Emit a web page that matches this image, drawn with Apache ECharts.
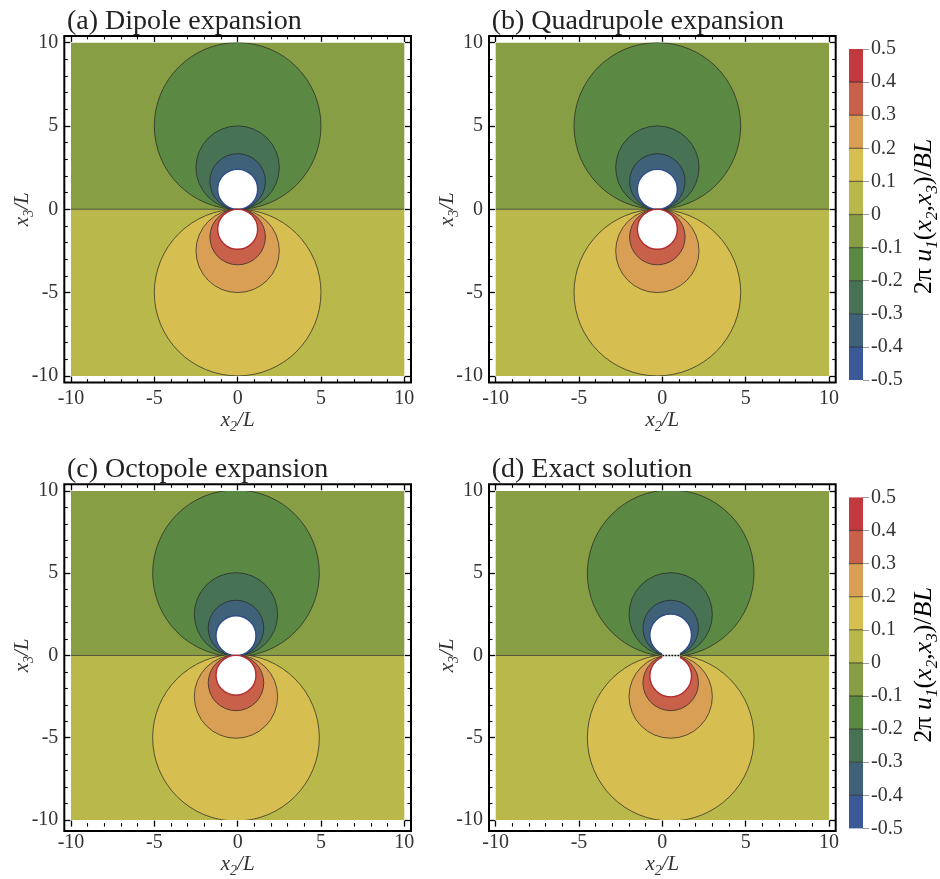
<!DOCTYPE html>
<html><head><meta charset="utf-8">
<script src="https://cdn.jsdelivr.net/npm/echarts@6/dist/echarts.min.js"></script>
<style>html,body{margin:0;padding:0;background:#fff}#c{width:940px;height:879px}</style>
</head><body><div id="c"></div>
<script>
// ---------- data ----------
const levels = [-0.5, -0.4, -0.3, -0.2, -0.1, 0, 0.1, 0.2, 0.3, 0.4, 0.5];
const bandColors = ['#3b5897', '#3f6279', '#487254', '#5b8843', '#889e44', '#b9b84b', '#d7be50', '#d9a055', '#c9614a', '#c1393c'];
const axisTicks = [-10, -5, 0, 5, 10];
const panelTitles = ['(a) Dipole expansion', '(b) Quadrupole expansion', '(c) Octopole expansion', '(d) Exact solution'];
// radii of the |value| = 0.1, 0.2, 0.3 contour circles (tangent to x3 = 0)
const contourRadii = [5, 2.5, 1.667];
// white (out-of-range) core radius per panel
const holeRadius = [1.2, 1.2, 1.2, 1.25];
// x2 position of the circle centres per panel
const centerShift = [0, -0.3, -0.1, 0.5];
// exact solution: segment between these x2 values on x3 = 0
const segmentEnds = [0, 1.05];

// ---------- layout ----------
const FONT = '"Liberation Serif", "Times New Roman", serif';
const gridLeft = [71, 495.7], gridTop = [42.6, 491], gridSize = 333.3, pad = 6.7;
const cbLeft = 849, cbWidth = 14, cbTopOff = 6.4, cbHeight = 331;
const LINE = 'rgba(35,35,35,0.7)';

const chart = echarts.init(document.getElementById('c'), null, {renderer: 'canvas'});

const grids = [], xAxes = [], yAxes = [], series = [], titles = [], graphics = [];

const nameRich = {
  i: {fontFamily: FONT, fontStyle: 'italic', fontSize: 21, lineHeight: 28, color: '#333'},
  s: {fontFamily: FONT, fontStyle: 'italic', fontSize: 14, lineHeight: 10, verticalAlign: 'bottom', color: '#333'}
};

function shapesFor(p) {
  const cx = centerShift[p];
  const sh = [];
  sh.push({k: 'rect', x0: axisTicks[0], x1: axisTicks[4], y0: 0, y1: axisTicks[4], c: bandColors[4]});
  sh.push({k: 'rect', x0: axisTicks[0], x1: axisTicks[4], y0: axisTicks[0], y1: 0, c: bandColors[5]});
  sh.push({k: 'line', x0: axisTicks[0], x1: axisTicks[4], y: 0, stroke: LINE, w: 1});
  contourRadii.forEach((r, k) => {
    sh.push({k: 'circle', cx: cx, cy: r, r: r, c: bandColors[3 - k], stroke: LINE});
    sh.push({k: 'circle', cx: cx, cy: -r, r: r, c: bandColors[6 + k], stroke: LINE});
  });
  const hr = holeRadius[p];
  sh.push({k: 'circle', cx: cx, cy: hr, r: hr, c: '#ffffff', stroke: '#2e4c8c', w: 1.4});
  sh.push({k: 'circle', cx: cx, cy: -hr, r: hr, c: '#ffffff', stroke: '#b02c30', w: 1.4});
  if (p === 3) {
    sh.push({k: 'rect', x0: segmentEnds[0], x1: segmentEnds[1], y0: -0.25, y1: 0.25, c: '#ffffff'});
    sh.push({k: 'line', x0: segmentEnds[0], x1: segmentEnds[1], y: 0, stroke: '#111', w: 1.6, dash: [2, 1]});
  }
  return sh;
}

for (let p = 0; p < 4; p++) {
  const row = p >> 1, col = p & 1;
  const gl = gridLeft[col], gt = gridTop[row];
  grids.push({left: gl, top: gt, width: gridSize, height: gridSize});
  const tickCommon = {
    axisLine: {show: false, onZero: false},
    axisTick: {show: true, inside: true, length: 6, lineStyle: {color: '#000', width: 1.3}},
    minorTick: {show: true, splitNumber: 5, length: 3.5, lineStyle: {color: '#000', width: 1.1}},
    splitLine: {show: false}, minorSplitLine: {show: false}
  };
  const labelStyle = {fontFamily: FONT, fontSize: 20, color: '#333'};
  xAxes.push(Object.assign({gridIndex: p, type: 'value', min: axisTicks[0], max: axisTicks[4], interval: 5,
    position: 'bottom', offset: pad,
    axisLabel: Object.assign({margin: 6}, labelStyle),
    name: '{i|x}{s|2}{i|/L}', nameLocation: 'middle', nameGap: 23,
    nameTextStyle: {rich: nameRich}}, tickCommon));
  xAxes.push(Object.assign({gridIndex: p, type: 'value', min: axisTicks[0], max: axisTicks[4], interval: 5,
    position: 'top', offset: pad, axisLabel: {show: false}}, tickCommon));
  yAxes.push(Object.assign({gridIndex: p, type: 'value', min: axisTicks[0], max: axisTicks[4], interval: 5,
    position: 'left', offset: pad,
    axisLabel: Object.assign({margin: 6}, labelStyle),
    name: '{i|x}{s|3}{i|/L}', nameLocation: 'middle', nameGap: 28, nameMoveOverlap: false,
    nameTextStyle: {rich: nameRich}}, tickCommon));
  yAxes.push(Object.assign({gridIndex: p, type: 'value', min: axisTicks[0], max: axisTicks[4], interval: 5,
    position: 'right', offset: pad, axisLabel: {show: false}}, tickCommon));

  const shapes = shapesFor(p);
  series.push({
    type: 'custom', xAxisIndex: 2 * p, yAxisIndex: 2 * p, clip: true, silent: true,
    data: shapes.map(s => [s.cx !== undefined ? s.cx : s.x0, s.cy !== undefined ? s.cy : (s.y !== undefined ? s.y : s.y0)]),
    renderItem: function (params, api) {
      const s = shapes[params.dataIndex];
      if (s.k === 'rect') {
        const a = api.coord([s.x0, s.y1]), b = api.coord([s.x1, s.y0]);
        return {type: 'rect', shape: {x: a[0], y: a[1], width: b[0] - a[0], height: b[1] - a[1]}, style: {fill: s.c}};
      }
      if (s.k === 'line') {
        const a = api.coord([s.x0, s.y]), b = api.coord([s.x1, s.y]);
        return {type: 'line', shape: {x1: a[0], y1: a[1], x2: b[0], y2: b[1]}, style: {stroke: s.stroke, lineWidth: s.w, lineDash: s.dash || null}};
      }
      const c = api.coord([s.cx, s.cy]);
      const rr = api.size([s.r, s.r]);
      return {type: 'circle', shape: {cx: c[0], cy: c[1], r: rr[0]}, style: {fill: s.c, stroke: s.stroke, lineWidth: s.w || 1}};
    }
  });

  titles.push({text: panelTitles[p], left: gl - 9, top: gt - 40,
    textStyle: {fontFamily: FONT, fontSize: 28, fontWeight: 'normal', color: '#222'}});
  graphics.push({type: 'rect', z: 100, silent: true,
    shape: {x: gl - pad, y: gt - pad, width: gridSize + 2 * pad, height: gridSize + 2 * pad},
    style: {fill: null, stroke: '#000', lineWidth: 2}});
}

// ---------- colour bars ----------
for (let r = 0; r < 2; r++) {
  const gi = grids.length;
  const top = gridTop[r] + cbTopOff;
  grids.push({left: cbLeft, top: top, width: cbWidth, height: cbHeight});
  xAxes.push({gridIndex: gi, type: 'value', min: 0, max: 1, show: false});
  yAxes.push({gridIndex: gi, type: 'value', min: levels[0], max: levels[levels.length - 1], interval: 0.1,
    position: 'right', axisLine: {show: false, onZero: false},
    axisTick: {show: true, length: 6, lineStyle: {color: '#999', width: 1}},
    splitLine: {show: false},
    axisLabel: {fontFamily: FONT, fontSize: 20, color: '#333', margin: 8,
      formatter: v => String(Math.round(v * 10) / 10)}});
  series.push({
    type: 'custom', xAxisIndex: xAxes.length - 1, yAxisIndex: yAxes.length - 1, silent: true,
    data: bandColors.map((c, i) => [0, levels[i]]),
    renderItem: function (params, api) {
      const i = params.dataIndex;
      const a = api.coord([0, levels[i + 1]]), b = api.coord([1, levels[i]]);
      const children = [{type: 'rect', shape: {x: a[0], y: a[1], width: b[0] - a[0], height: b[1] - a[1]}, style: {fill: bandColors[i]}}];
      if (i > 0) children.push({type: 'line', shape: {x1: a[0], y1: b[1], x2: b[0], y2: b[1]}, style: {stroke: 'rgba(30,30,30,0.6)', lineWidth: 1.2}});
      return {type: 'group', children: children};
    }
  });
  graphics.push({type: 'text', x: 924, y: top + cbHeight / 2 + 2, rotation: Math.PI / 2, silent: true,
    style: {text: '{n|2π }{i|u}{s|1}{n|(}{i|x}{s|2}{n|,}{i|x}{s|3}{n|)/}{i|BL}', align: 'center', verticalAlign: 'middle',
      rich: {
        n: {fontFamily: FONT, fontSize: 26, lineHeight: 34, color: '#333'},
        i: {fontFamily: FONT, fontStyle: 'italic', fontSize: 26, lineHeight: 34, color: '#333'},
        s: {fontFamily: FONT, fontStyle: 'italic', fontSize: 17, lineHeight: 12, verticalAlign: 'bottom', color: '#333'}
      }}});
}

chart.setOption({
  animation: false,
  backgroundColor: '#ffffff',
  title: titles,
  grid: grids,
  xAxis: xAxes,
  yAxis: yAxes,
  series: series,
  graphic: graphics
});
</script></body></html>
